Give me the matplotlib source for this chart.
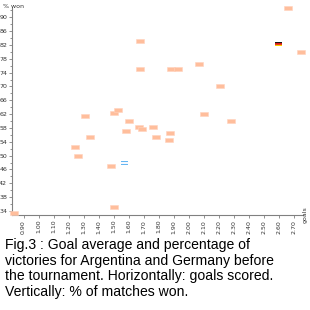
import numpy as np
import matplotlib
matplotlib.use("Agg")
import matplotlib.pyplot as plt
from matplotlib.offsetbox import OffsetImage, AnnotationBbox
from matplotlib.path import Path

goals = [0.835, 1.24, 1.26, 1.31, 1.34, 1.48, 1.50, 1.50, 1.53, 1.58, 1.60, 1.67, 1.69,
         1.675, 1.675, 1.76, 1.785, 1.875, 1.87, 1.88, 1.93, 2.07, 2.105, 2.21, 2.28,
         2.66, 2.75]
won = [33.3, 52.4, 50.0, 61.5, 55.5, 47.1, 35.1, 62.4, 63.1, 57.2, 60.0, 58.4, 57.8,
       83.1, 75.0, 58.4, 55.5, 56.5, 54.5, 75.0, 75.0, 76.4, 62.0, 70.0, 60.0,
       92.8, 80.0]
arg_goals, arg_won = 1.57, 47.8
ger_goals, ger_won = 2.60, 82.4

xticks = [0.9 + 0.1 * i for i in range(19)]
xlabels = ["%.2f" % v for v in xticks]
yticks = list(range(34, 91, 4))
ylabels = [str(v) for v in yticks]

caption = ("Fig.3 : Goal average and percentage of\n"
           "victories for Argentina and Germany before\n"
           "the tournament. Horizontally: goals scored.\n"
           "Vertically: % of matches won.")

W = H = 310
fig = plt.figure(figsize=(3.1, 3.1), dpi=100)
ax = fig.add_axes([12 / W, 1 - 215 / H, (303 - 12) / W, (215 - 8) / H])
ax.set_xlim(0.823, 2.763)
ax.set_ylim(32.84, 92.7)

rect = Path([(-3.5, -2), (3.5, -2), (3.5, 2), (-3.5, 2), (-3.5, -2)],
            [Path.MOVETO, Path.LINETO, Path.LINETO, Path.LINETO, Path.CLOSEPOLY])
ax.plot(goals, won, linestyle="none", marker=rect, markersize=5.2,
        markerfacecolor="#ffbe9c", markeredgecolor="#ffd3bd", markeredgewidth=0.4,
        clip_on=False, zorder=3)

blue = [0.40, 0.72, 0.95]
white = [0.97, 0.98, 1.0]
arg = np.array([[blue] * 7, [white] * 7, [white] * 7, [blue] * 7])
ger = np.array([[[0.1, 0.1, 0.1]] * 7, [[0.85, 0.1, 0.1]] * 7,
                [[0.9, 0.25, 0.1]] * 7, [[1.0, 0.8, 0.0]] * 7])
for (fx, fy, img) in [(arg_goals, arg_won, arg), (ger_goals, ger_won, ger)]:
    oi = OffsetImage(img, zoom=72 / 100, interpolation="nearest")
    ab = AnnotationBbox(oi, (fx, fy), frameon=False, pad=0, zorder=4)
    ax.add_artist(ab)

for s in ["top", "right"]:
    ax.spines[s].set_visible(False)
for s in ["left", "bottom"]:
    ax.spines[s].set_color("#808080")
    ax.spines[s].set_linewidth(0.8)

ax.set_xticks(xticks)
ax.set_xticklabels(xlabels, rotation=90, fontsize=4.5, color="#333333")
ax.set_yticks(yticks)
ax.set_yticklabels(ylabels, fontsize=4.5, color="#333333")
ax.set_yticks(list(range(36, 93, 4)), minor=True)
ax.tick_params(axis="both", which="major", length=2.5, width=0.6, color="#808080", pad=1)
ax.tick_params(axis="y", which="minor", length=1.5, width=0.6, color="#808080")

fig.text(3 / W, 1 - 6 / H, "% won", fontsize=4.5, color="#333333", va="center", ha="left")
ax.text(1.0, 0.0, "goals", transform=ax.transAxes, rotation=90, fontsize=4.5,
        color="#333333", ha="left", va="center")

fig.text(5 / W, 1 - 238 / H, caption, fontsize=10.1, family="Liberation Sans",
         va="top", ha="left", linespacing=1.15, color="black")

fig.savefig("out.png", dpi=100)
